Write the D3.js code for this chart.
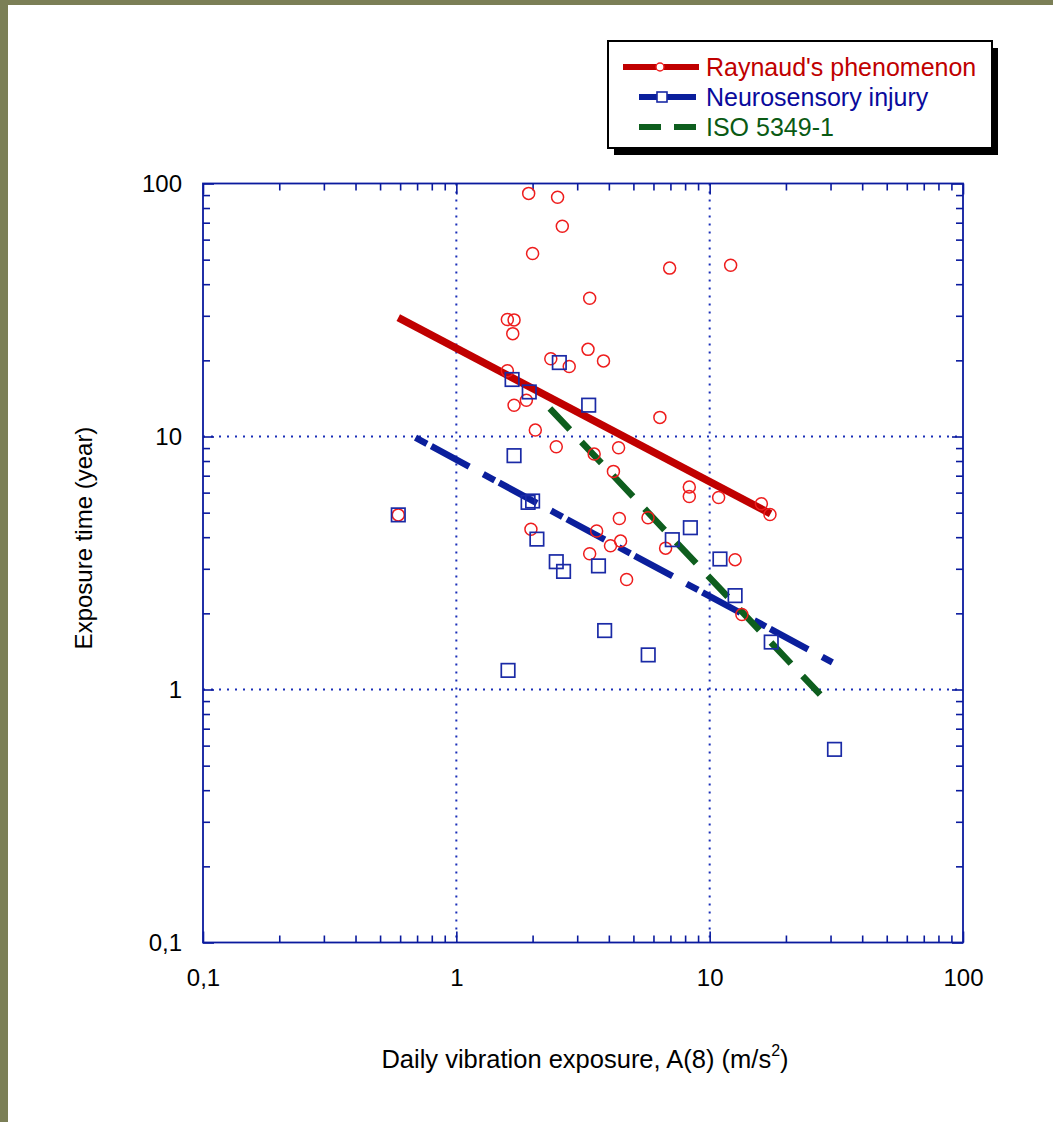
<!DOCTYPE html>
<html>
<head>
<meta charset="utf-8">
<script src="https://cdn.jsdelivr.net/npm/d3@7"></script>
<style>
  html, body { margin: 0; padding: 0; background: #ffffff; }
  svg { display: block; }
  text { font-family: "Liberation Sans", Arial, sans-serif; }
</style>
</head>
<body>
<svg id="chart" width="1053" height="1122"></svg>
<script>
// ---------------- DATA ----------------
// Raynaud's phenomenon observations: A(8) (m/s²) and exposure time (years)
const raynaudX = [1.93, 2.51, 2.62, 2.00, 6.95, 12.1, 3.36, 1.59, 1.69, 1.67,
                  3.31, 2.36, 3.81, 2.79, 1.59, 1.69, 1.89, 6.36, 2.05, 2.48,
                  3.50, 4.37, 4.17, 8.31, 8.31, 10.85, 16.0, 17.3, 0.59, 4.40,
                  5.71, 1.97, 3.58, 4.45, 4.06, 6.70, 3.36, 4.70, 12.6, 13.4];
const raynaudY = [91.4, 88.3, 67.8, 52.9, 46.3, 47.5, 35.2, 29.0, 28.9, 25.5,
                  22.1, 20.3, 19.9, 18.9, 18.2, 13.3, 13.9, 11.9, 10.6, 9.11,
                  8.52, 9.03, 7.28, 6.31, 5.79, 5.74, 5.42, 4.92, 4.90, 4.74,
                  4.77, 4.30, 4.23, 3.86, 3.70, 3.62, 3.44, 2.72, 3.26, 1.98];

// Neurosensory injury observations
const neuroX = [2.55, 1.66, 1.94, 3.33, 1.69, 2.00, 1.92, 0.59, 2.08, 2.48,
                2.65, 3.64, 7.12, 8.39, 10.98, 12.6, 17.5, 31.1, 3.85, 5.72, 1.60];
const neuroY = [19.6, 16.8, 15.0, 13.3, 8.40, 5.56, 5.49, 4.90, 3.93, 3.20,
                2.93, 3.08, 3.91, 4.36, 3.28, 2.35, 1.54, 0.58, 1.71, 1.37, 1.19];

// Regression / reference lines (end points)
const raynaudLineX = [0.59, 17.4];
const raynaudLineY = [29.5, 4.95];
const neuroLineX = [0.69, 30.5];
const neuroLineY = [9.9, 1.28];
const isoLineX = [2.34, 27.3];
const isoLineY = [12.9, 0.955];

// Axes
const xMajorTicks = [0.1, 1, 10, 100];
const xTickLabels = ["0,1", "1", "10", "100"];
const yMajorTicks = [0.1, 1, 10, 100];
const yTickLabels = ["0,1", "1", "10", "100"];
const gridValues = [1, 10];

const legendLabels = ["Raynaud's phenomenon", "Neurosensory injury", "ISO 5349-1"];

// ---------------- LAYOUT ----------------
const W = 1053, H = 1122;
const L = 203, R = 963, T = 183.5, B = 942.5;
const axisColor = "#0a1a9e";
const gridColor = "#1a2fb8";
const redLine = "#c00000", redMarker = "#ee1d1d";
const blueLine = "#0b1f9c", blueMarker = "#1a2aa6";
const greenLine = "#0e5e1e";

const svg = d3.select("#chart");

// background + olive frame
svg.append("rect").attr("x", 0).attr("y", 0).attr("width", W).attr("height", H).attr("fill", "#ffffff");
svg.append("rect").attr("x", 0).attr("y", 0).attr("width", W).attr("height", 5).attr("fill", "#7b7f56");
svg.append("rect").attr("x", 0).attr("y", 0).attr("width", 8).attr("height", H).attr("fill", "#7b7f56");

const x = d3.scaleLog().domain([0.1, 100]).range([L, R]);
const y = d3.scaleLog().domain([0.1, 100]).range([B, T]);

// all tick values (majors + minors)
const allTicks = [];
[0.1, 1, 10].forEach(d => { for (let k = 1; k <= 9; k++) allTicks.push(+(d * k).toPrecision(3)); });
allTicks.push(100);
const isMajor = v => xMajorTicks.some(m => Math.abs(m - v) < 1e-9);

// grid (dotted)
const grid = svg.append("g");
gridValues.forEach(v => {
  grid.append("line").attr("x1", x(v)).attr("x2", x(v)).attr("y1", T).attr("y2", B)
    .attr("stroke", gridColor).attr("stroke-width", 2).attr("stroke-dasharray", "2,6");
  grid.append("line").attr("x1", L).attr("x2", R).attr("y1", y(v)).attr("y2", y(v))
    .attr("stroke", gridColor).attr("stroke-width", 2).attr("stroke-dasharray", "2,6");
});

function styleAxis(g, sign, horizontal) {
  g.select(".domain").remove();
  g.selectAll(".tick line")
    .attr("stroke", axisColor).attr("stroke-width", 1.6)
    .each(function(d) {
      const len = isMajor(d) ? 11 : 7;
      if (horizontal) d3.select(this).attr("y2", sign * len);
      else d3.select(this).attr("x2", sign * len);
    });
  g.selectAll(".tick text")
    .attr("fill", "#000").attr("font-size", 24)
    .attr("font-family", "'Liberation Sans', Arial, sans-serif");
}

const fmtX = v => { const i = xMajorTicks.findIndex(m => Math.abs(m - v) < 1e-9); return i >= 0 ? xTickLabels[i] : ""; };
const fmtY = v => { const i = yMajorTicks.findIndex(m => Math.abs(m - v) < 1e-9); return i >= 0 ? yTickLabels[i] : ""; };

// bottom
svg.append("g").attr("transform", `translate(0,${B})`)
  .call(d3.axisBottom(x).tickValues(allTicks).tickFormat(fmtX).tickSizeInner(-7).tickSizeOuter(0).tickPadding(26))
  .call(g => styleAxis(g, -1, true));
// top
svg.append("g").attr("transform", `translate(0,${T})`)
  .call(d3.axisTop(x).tickValues(allTicks).tickFormat(() => "").tickSizeInner(-7).tickSizeOuter(0))
  .call(g => styleAxis(g, 1, true));
// left
svg.append("g").attr("transform", `translate(${L},0)`)
  .call(d3.axisLeft(y).tickValues(allTicks).tickFormat(fmtY).tickSizeInner(-7).tickSizeOuter(0).tickPadding(21))
  .call(g => styleAxis(g, 1, false));
// right
svg.append("g").attr("transform", `translate(${R},0)`)
  .call(d3.axisRight(y).tickValues(allTicks).tickFormat(() => "").tickSizeInner(-7).tickSizeOuter(0))
  .call(g => styleAxis(g, -1, false));

// frame
svg.append("rect").attr("x", L).attr("y", T).attr("width", R - L).attr("height", B - T)
  .attr("fill", "none").attr("stroke", axisColor).attr("stroke-width", 1.8);

// lines
const lineGen = d3.line().x(d => x(d[0])).y(d => y(d[1]));
svg.append("path").datum(d3.zip(raynaudLineX, raynaudLineY)).attr("d", lineGen)
  .attr("stroke", redLine).attr("stroke-width", 7.5).attr("fill", "none");
svg.append("path").datum(d3.zip(neuroLineX, neuroLineY)).attr("d", lineGen)
  .attr("stroke", blueLine).attr("stroke-width", 6.5).attr("fill", "none")
  .attr("stroke-dasharray", "13,5,43,16");
svg.append("path").datum(d3.zip(isoLineX, isoLineY)).attr("d", lineGen)
  .attr("stroke", greenLine).attr("stroke-width", 6.5).attr("fill", "none")
  .attr("stroke-dasharray", "29,17");

// markers
svg.append("g").selectAll("circle").data(d3.zip(raynaudX, raynaudY)).join("circle")
  .attr("cx", d => x(d[0])).attr("cy", d => y(d[1])).attr("r", 6)
  .attr("fill", "none").attr("stroke", redMarker).attr("stroke-width", 1.5);
const sq = 13.5;
svg.append("g").selectAll("rect").data(d3.zip(neuroX, neuroY)).join("rect")
  .attr("x", d => x(d[0]) - sq / 2).attr("y", d => y(d[1]) - sq / 2)
  .attr("width", sq).attr("height", sq)
  .attr("fill", "none").attr("stroke", blueMarker).attr("stroke-width", 1.7);

// axis titles
const xt = svg.append("text").attr("x", (L + R) / 2 + 2).attr("y", 1068)
  .attr("text-anchor", "middle").attr("font-size", 25.5).attr("fill", "#000");
xt.append("tspan").text("Daily vibration exposure, A(8) (m/s");
xt.append("tspan").attr("font-size", 16).attr("dy", -12).text("2");
xt.append("tspan").attr("dy", 12).text(")");

svg.append("text").attr("transform", "translate(92,538) rotate(-90)")
  .attr("text-anchor", "middle").attr("font-size", 24).attr("fill", "#000")
  .text("Exposure time (year)");

// legend
const lg = svg.append("g");
lg.append("rect").attr("x", 614).attr("y", 48).attr("width", 384).attr("height", 107).attr("fill", "#000");
lg.append("rect").attr("x", 608).attr("y", 41).attr("width", 384).attr("height", 107)
  .attr("fill", "#fff").attr("stroke", "#000").attr("stroke-width", 2);
const rowY = [67, 97, 127];
const textColors = ["#c00000", "#0a0a9c", "#0a5a14"];
// row 1
lg.append("line").attr("x1", 623).attr("x2", 699).attr("y1", rowY[0]).attr("y2", rowY[0])
  .attr("stroke", redLine).attr("stroke-width", 6);
lg.append("circle").attr("cx", 660).attr("cy", rowY[0]).attr("r", 4)
  .attr("fill", "#fff").attr("stroke", redMarker).attr("stroke-width", 1.4);
// row 2
lg.append("line").attr("x1", 639).attr("x2", 696).attr("y1", rowY[1]).attr("y2", rowY[1])
  .attr("stroke", blueLine).attr("stroke-width", 6);
lg.append("rect").attr("x", 657).attr("y", rowY[1] - 5).attr("width", 10).attr("height", 10)
  .attr("fill", "#fff").attr("stroke", blueMarker).attr("stroke-width", 1.6);
// row 3
lg.append("line").attr("x1", 639).attr("x2", 696).attr("y1", rowY[2]).attr("y2", rowY[2])
  .attr("stroke", greenLine).attr("stroke-width", 6).attr("stroke-dasharray", "22,13");
legendLabels.forEach((t, i) => {
  lg.append("text").attr("x", 706).attr("y", rowY[i] + 9).attr("font-size", 25)
    .attr("fill", textColors[i]).text(t);
});
</script>
</body>
</html>
